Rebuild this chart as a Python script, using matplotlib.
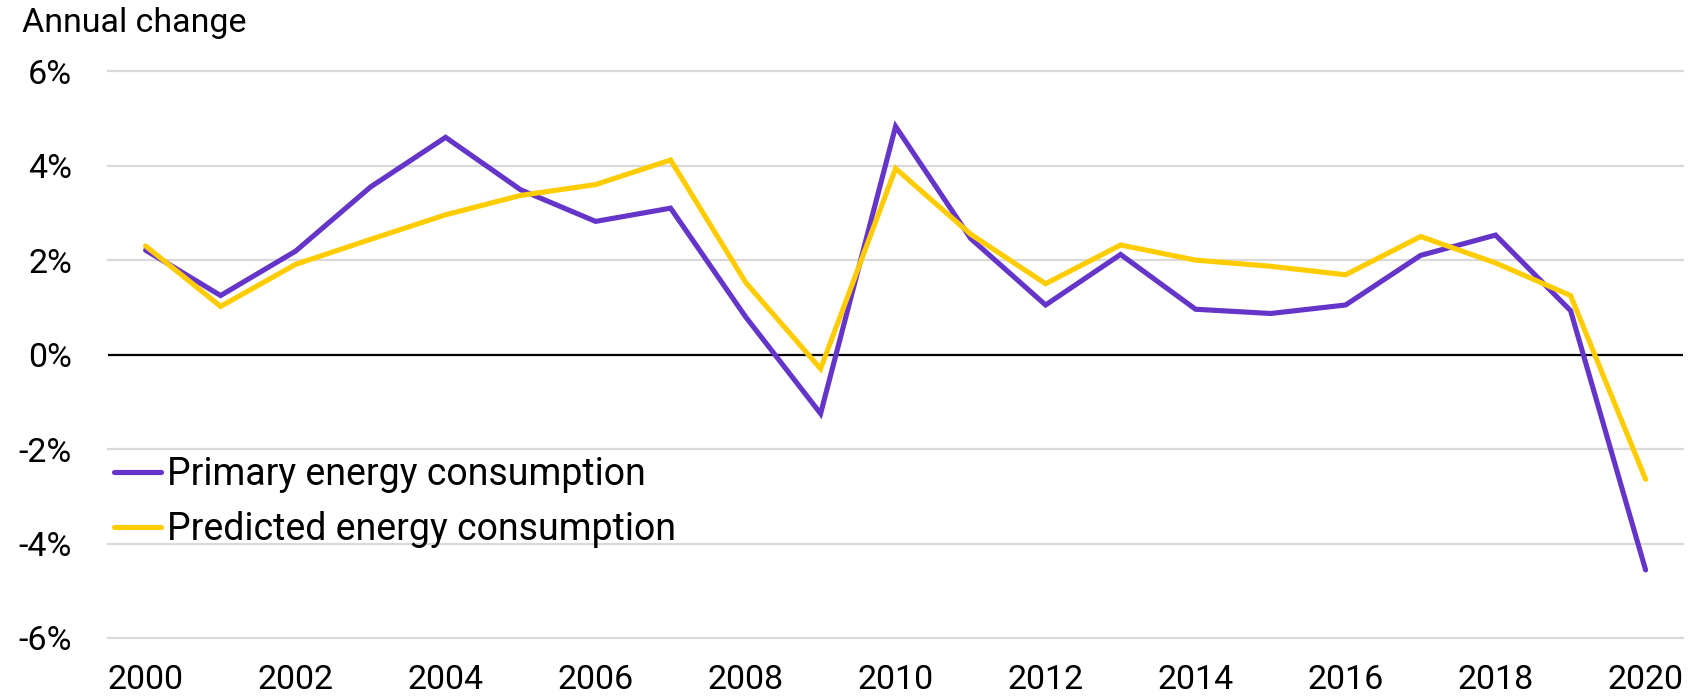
import matplotlib
matplotlib.use("Agg")
import matplotlib.pyplot as plt
from matplotlib import font_manager as fm

years = list(range(2000, 2021))
primary = [2.21, 1.25, 2.19, 3.55, 4.60, 3.49, 2.82, 3.10, 0.80, -1.25, 4.83,
           2.46, 1.05, 2.12, 0.96, 0.87, 1.05, 2.10, 2.53, 0.93, -4.56]
predicted = [2.30, 1.02, 1.91, 2.44, 2.96, 3.37, 3.60, 4.12, 1.53, -0.30, 3.94,
             2.55, 1.50, 2.32, 2.00, 1.87, 1.69, 2.50, 1.94, 1.25, -2.64]
yticks = [-6, -4, -2, 0, 2, 4, 6]
ytick_labels = ['-6%', '-4%', '-2%', '0%', '2%', '4%', '6%']
xticks = list(range(2000, 2021, 2))
labels = ['Primary energy consumption', 'Predicted energy consumption']
colors = ['#6535C9', '#FFCC00']

available = {f.name for f in fm.fontManager.ttflist}
family = 'Roboto' if 'Roboto' in available else 'Liberation Sans'
plt.rcParams['font.family'] = [family, 'DejaVu Sans']

fig = plt.figure(figsize=(16.89, 6.98), dpi=100)
ax = fig.add_axes([0.064, 0.086, 0.9325, 0.812])

for y in yticks:
    if y == 0:
        ax.axhline(y, color='black', lw=1.6, zorder=2)
    else:
        ax.axhline(y, color='#d9d9d9', lw=1.6, zorder=1, clip_on=False)

ax.plot(years, primary, color=colors[0], lw=3.7, label=labels[0],
        solid_capstyle='round', solid_joinstyle='miter', zorder=3)
ax.plot(years, predicted, color=colors[1], lw=3.7, label=labels[1],
        solid_capstyle='round', solid_joinstyle='miter', zorder=4)

ax.set_xlim(1999.5, 2020.5)
ax.set_ylim(-6, 6)
ax.set_yticks(yticks)
ax.set_yticklabels(ytick_labels)
ax.set_xticks(xticks)
ax.set_xticklabels([str(x) for x in xticks])
ax.tick_params(axis='both', length=0, labelsize=24.5, colors='black')
ax.tick_params(axis='y', pad=26)
ax.tick_params(axis='x', pad=19)
for s in ax.spines.values():
    s.set_visible(False)

fig.text(0.013, 0.99, 'Annual change', fontsize=24.5, va='top', ha='left')

leg = ax.legend(loc='upper left', bbox_to_anchor=(-0.006, 0.348), frameon=False,
                fontsize=27, handlelength=1.27, handletextpad=0.14,
                labelspacing=0.5, borderaxespad=0)
for line in leg.get_lines():
    line.set_linewidth(3.7)
    line.set_solid_capstyle('round')

fig.savefig('out.png', dpi=100)
